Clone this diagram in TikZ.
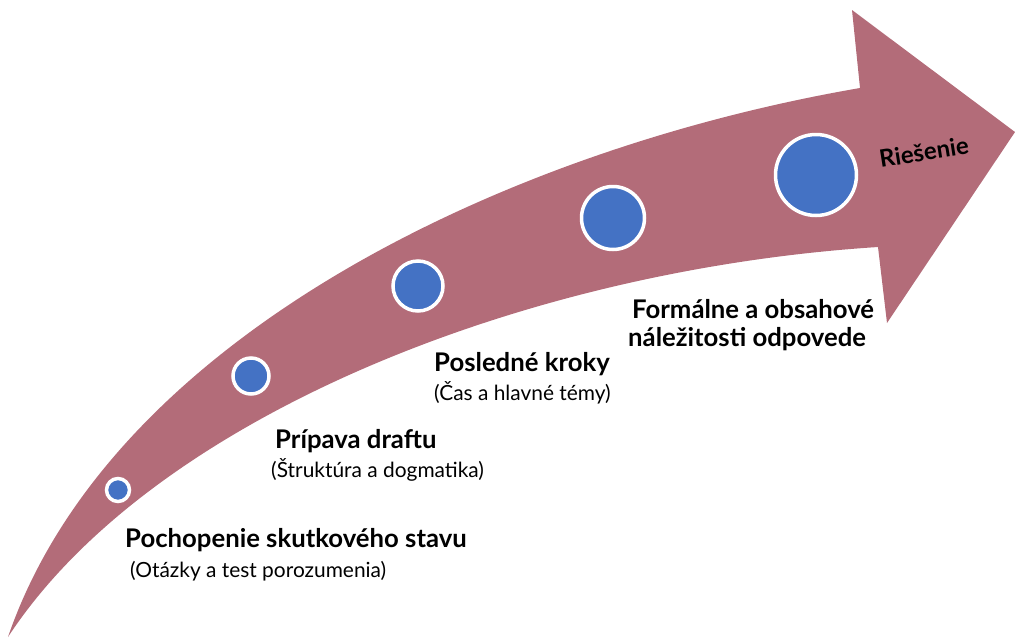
\documentclass[tikz,border=0pt]{standalone}
\usepackage{fontspec}
\setmainfont{Lato}
\definecolor{arrowfill}{RGB}{179,108,121}
\definecolor{dotblue}{RGB}{68,114,196}
\begin{document}
\begin{tikzpicture}[x={(1pt,0)},y={(0,-1pt)},
  dot/.style={circle,fill=dotblue,draw=white,line width=3.5pt,inner sep=0pt},
  head/.style={anchor=base west,font=\fontsize{25.7}{28}\selectfont\bfseries,inner sep=0pt},
  sub/.style={anchor=base west,font=\fontsize{20.9}{24}\selectfont,inner sep=0pt}]
\useasboundingbox (0,0) rectangle (1015,638);
% arrow body
\coordinate (tail) at (8,637);
\coordinate (uj) at (860,88);
\coordinate (uc) at (852,10);
\coordinate (tip) at (1015,132);
\coordinate (lc) at (887,323);
\coordinate (lj) at (878,247);
\fill[arrowfill] (tail) .. controls (110,340) and (500,150) .. (uj)
  -- (uc) -- (tip) -- (lc) -- (lj)
  .. controls (520,270) and (150,420) .. (tail) -- cycle;
% dots
\node[dot,minimum size=23pt] (d1) at (118,490) {};
\node[dot,minimum size=36pt] (d2) at (251,376) {};
\node[dot,minimum size=50pt] (d3) at (418,286) {};
\node[dot,minimum size=63pt] (d4) at (613,218) {};
\node[dot,minimum size=81pt] (d5) at (816,175) {};
% labels
\node[head] (t1) at (125,547) {Pochopenie skutkového stavu};
\node[sub] (s1) at (130,577) {(Otázky a test porozumenia)};
\node[head] (t2) at (275,448) {Prípava draftu};
\node[sub] (s2) at (271,477) {(Štruktúra a dogmatika)};
\node[head] (t3) at (434,371) {Posledné kroky};
\node[sub] (s3) at (434,400) {(Čas a hlavné témy)};
\node[head] (t4) at (632,318) {Formálne a obsahové};
\node[head] (t5) at (628,346) {náležitosti odpovede};
\node[rotate=9,font=\fontsize{24}{28}\selectfont\bfseries,inner sep=0pt] (t6) at (924,152) {Riešenie};
\end{tikzpicture}
\end{document}
